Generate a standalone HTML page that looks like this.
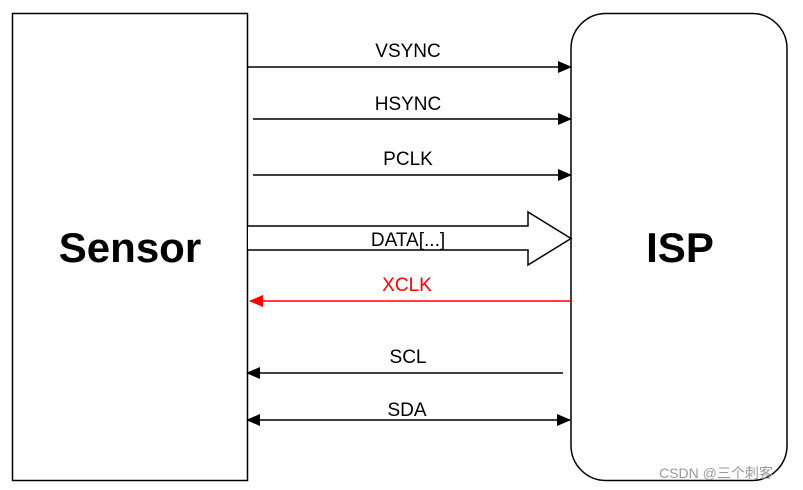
<!DOCTYPE html>
<html><head><meta charset="utf-8"><style>
html,body{margin:0;padding:0;background:#fff;width:803px;height:490px;overflow:hidden}
</style></head><body>
<svg width="803" height="490" xmlns="http://www.w3.org/2000/svg" font-family="Liberation Sans, Arial, sans-serif">
<defs>
<marker id="a" markerWidth="14" markerHeight="12" refX="13" refY="6" orient="auto-start-reverse" markerUnits="userSpaceOnUse"><path d="M0,0 L14,6 L0,12 Z" fill="#000"/></marker>
<marker id="ar" markerWidth="14" markerHeight="12" refX="13" refY="6" orient="auto" markerUnits="userSpaceOnUse"><path d="M0,0 L14,6 L0,12 Z" fill="#f00"/></marker>
</defs>
<rect x="12.5" y="13.5" width="235" height="467" fill="#fff" stroke="#000" stroke-width="1.5"/>
<rect x="571" y="13.5" width="216" height="467" rx="35" ry="35" fill="#fff" stroke="#000" stroke-width="1.5"/>
<text x="130" y="262" font-size="42" font-weight="bold" text-anchor="middle">Sensor</text>
<text x="680" y="262" font-size="42" font-weight="bold" text-anchor="middle">ISP</text>
<g stroke="#000" stroke-width="1.5" fill="none">
<line x1="247" y1="67" x2="571" y2="67" marker-end="url(#a)"/>
<line x1="253" y1="119" x2="571" y2="119" marker-end="url(#a)"/>
<line x1="253" y1="175" x2="571" y2="175" marker-end="url(#a)"/>
<line x1="563" y1="373" x2="247" y2="373" marker-end="url(#a)"/>
<line x1="247" y1="420" x2="570" y2="420" marker-start="url(#a)" marker-end="url(#a)"/>
<path d="M248,226 L528,226 L528,212 L571,238.5 L528,265 L528,250 L248,250" fill="#fff"/>
</g>
<line x1="571" y1="301" x2="250" y2="301" stroke="#f00" stroke-width="1.5" marker-end="url(#ar)"/>
<g font-size="19" text-anchor="middle" fill="#000">
<text x="408" y="57">VSYNC</text>
<text x="408" y="110">HSYNC</text>
<text x="408" y="165">PCLK</text>
<text x="408" y="246">DATA[...]</text>
<text x="407" y="291" fill="#f00">XCLK</text>
<text x="408" y="363">SCL</text>
<text x="407" y="416">SDA</text>
</g>
<text x="716" y="478" font-size="14" fill="#999" text-anchor="middle" font-family="Liberation Sans, Noto Sans CJK SC, sans-serif">CSDN @三个刺客</text>
</svg>
</body></html>
